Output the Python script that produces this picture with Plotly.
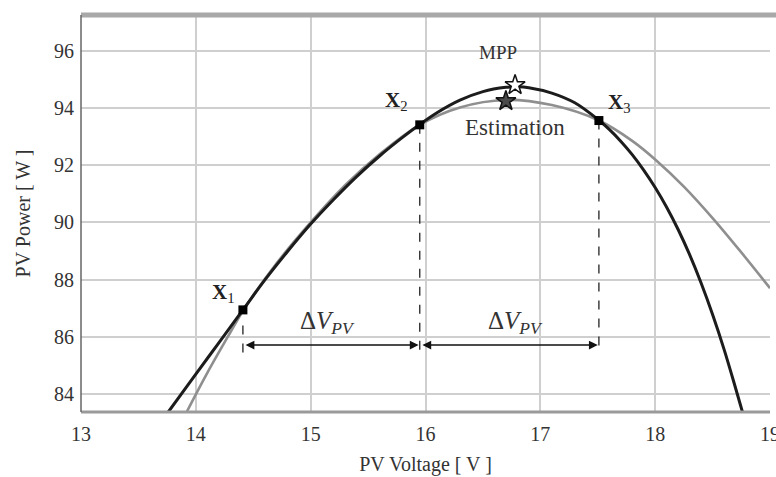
import plotly.graph_objects as go

# Measured P-V characteristic of the module
pv_voltage = [13.76, 14.0, 14.2, 14.41, 14.6, 14.8, 15.0, 15.2, 15.4, 15.6, 15.8, 15.95,
              16.1, 16.3, 16.5, 16.7, 16.8, 16.9, 17.1, 17.3, 17.51, 17.6, 17.7, 17.8,
              17.9, 18.0, 18.1, 18.2, 18.3, 18.4, 18.5, 18.6, 18.7, 18.76]
pv_power = [83.37, 84.69, 85.79, 86.94, 87.98, 88.99, 89.94, 90.8, 91.6, 92.32, 92.97, 93.42,
            93.83, 94.27, 94.57, 94.72, 94.74, 94.71, 94.52, 94.18, 93.57, 93.25, 92.84, 92.37,
            91.83, 91.22, 90.53, 89.75, 88.87, 87.88, 86.78, 85.56, 84.21, 83.37]

# Quadratic estimate through the three sampled points
est_voltage = [13.92, 14.1, 14.3, 14.41, 14.7, 15.0, 15.3, 15.6, 15.95, 16.3, 16.7, 17.1,
               17.51, 17.8, 18.0, 18.25, 18.5, 18.75, 19.0]
est_power = [83.37, 84.74, 86.15, 86.9, 88.55, 90.0, 91.3, 92.38, 93.41, 94.02, 94.28, 94.1,
             93.56, 92.85, 92.2, 91.25, 90.15, 88.95, 87.7]

# Sampled operating points X1, X2, X3
sample_voltage = [14.41, 15.95, 17.51]
sample_power = [86.94, 93.41, 93.56]
sample_labels = ["<b>X</b><sub>1</sub>", "<b>X</b><sub>2</sub>", "<b>X</b><sub>3</sub>"]

mpp_point = (16.78, 94.8)
estimated_point = (16.70, 94.24)

x_ticks = [13, 14, 15, 16, 17, 18, 19]
y_ticks = [84, 86, 88, 90, 92, 94, 96]

arrow_level = 85.71
dash_bottom = 85.45
delta_label_x = [15.15, 16.78]

FONT = "Liberation Serif, DejaVu Serif, serif"
TXT = "#333333"

fig = go.Figure()

fig.add_trace(go.Scatter(x=est_voltage, y=est_power, mode="lines", line_shape="spline",
                         line=dict(color="#8f8f8f", width=2.6), showlegend=False))
fig.add_trace(go.Scatter(x=pv_voltage, y=pv_power, mode="lines", line_shape="spline",
                         line=dict(color="#1c1c1c", width=3), showlegend=False))

# Dashed drops from the sampled points to the ΔV arrows
for i, (v, p) in enumerate(zip(sample_voltage, sample_power)):
    top = p - 0.55 if i == 0 else p
    fig.add_trace(go.Scatter(x=[v, v], y=[top, dash_bottom], mode="lines",
                             line=dict(color="#222", width=1.3, dash="dash"),
                             showlegend=False))

fig.add_trace(go.Scatter(x=sample_voltage, y=sample_power, mode="markers",
                         marker=dict(symbol="square", size=9, color="#000"), showlegend=False))

fig.add_trace(go.Scatter(x=[estimated_point[0]], y=[estimated_point[1]], mode="markers",
                         marker=dict(symbol="star", size=15, color="#4a4a4a",
                                     line=dict(color="#111", width=1.5)), showlegend=False))
fig.add_trace(go.Scatter(x=[mpp_point[0]], y=[mpp_point[1]], mode="markers",
                         marker=dict(symbol="star", size=15, color="white",
                                     line=dict(color="#111", width=1.5)), showlegend=False))

annotations = []
label_offsets = [(-0.17, 0.6), (-0.2, 0.85), (0.18, 0.6)]
for v, p, t, (dx, dy) in zip(sample_voltage, sample_power, sample_labels, label_offsets):
    annotations.append(dict(x=v + dx, y=p + dy, text=t, showarrow=False,
                            font=dict(family=FONT, size=21, color="#222")))

annotations.append(dict(x=mpp_point[0] - 0.15, y=95.95, text="MPP", showarrow=False,
                        font=dict(family=FONT, size=19, color=TXT)))
annotations.append(dict(x=16.78, y=93.3, text="Estimation", showarrow=False,
                        font=dict(family=FONT, size=23, color=TXT)))

# ΔV_PV double arrows
for (a, b), lx in zip(zip(sample_voltage[:-1], sample_voltage[1:]), delta_label_x):
    annotations.append(dict(x=b - 0.01, y=arrow_level, ax=a + 0.01, ay=arrow_level,
                            xref="x", yref="y", axref="x", ayref="y", text="",
                            showarrow=True, arrowhead=2, arrowside="end+start",
                            arrowsize=1.1, arrowwidth=1.6, arrowcolor="#111"))
    annotations.append(dict(x=lx, y=86.5, text="Δ<i>V</i><sub><i>PV</i></sub>",
                            showarrow=False, font=dict(family=FONT, size=25, color=TXT)))

# Last tick label sits on the right edge of the figure
annotations.append(dict(x=19, y=0, xref="x", yref="paper", yanchor="top", yshift=-9,
                        text="19", showarrow=False,
                        font=dict(family=FONT, size=20, color=TXT)))

fig.update_layout(
    width=776, height=477,
    margin=dict(l=81, r=6, t=15, b=65),
    paper_bgcolor="white", plot_bgcolor="white",
    font=dict(family=FONT, size=20, color=TXT),
    annotations=annotations,
    shapes=[
        dict(type="line", xref="paper", yref="paper", x0=0, x1=1.01, y0=1, y1=1,
             line=dict(color="#a8a8a8", width=5)),
        dict(type="line", xref="paper", yref="paper", x0=0, x1=1, y0=0, y1=0,
             line=dict(color="#9a9a9a", width=3)),
        dict(type="line", xref="paper", yref="paper", x0=0, x1=0, y0=0, y1=1,
             line=dict(color="#666", width=1.5)),
    ],
)

fig.update_xaxes(range=[13, 19], tickvals=x_ticks[:-1], ticktext=[str(t) for t in x_ticks[:-1]],
                 showgrid=True, gridcolor="#cfcfcf", gridwidth=1.5, zeroline=False,
                 showline=False, ticks="", ticklabelstandoff=8,
                 tickfont=dict(family=FONT, size=20, color=TXT),
                 title=dict(text="PV Voltage [ V ]", font=dict(family=FONT, size=20, color=TXT),
                            standoff=12))
fig.update_yaxes(range=[83.37, 97.25], tickvals=y_ticks, ticktext=[str(t) for t in y_ticks],
                 showgrid=True, gridcolor="#cfcfcf", gridwidth=1.5, zeroline=False,
                 showline=False, ticks="", ticklabelstandoff=6,
                 tickfont=dict(family=FONT, size=20, color=TXT),
                 title=dict(text="PV Power [ W ]", font=dict(family=FONT, size=20, color=TXT),
                            standoff=18))

fig.write_html("out.html")
